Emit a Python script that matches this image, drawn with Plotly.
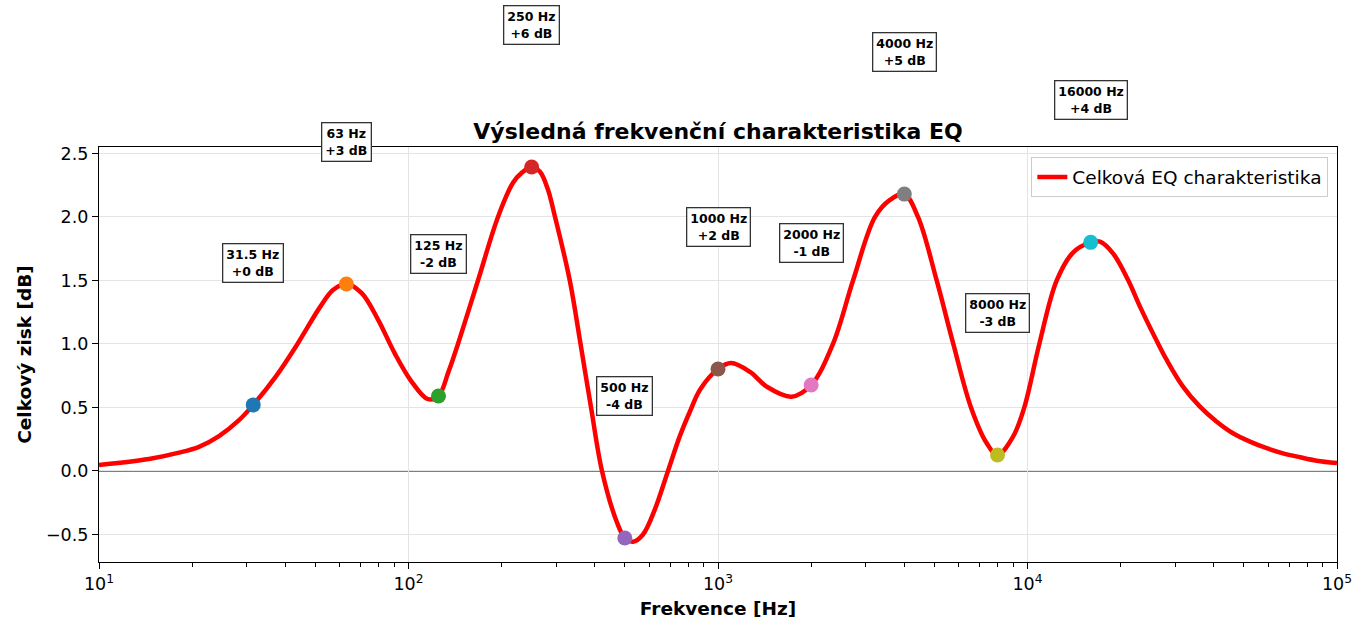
import math
import plotly.graph_objects as go

# Combined EQ response, sampled along the frequency axis
curve_freq = [10, 14.5, 18.14, 21.04, 24.42, 28.34, 31.5, 37.3, 43.78, 51.76, 57.02,
              63, 70.6, 79.8, 90.1, 101.9, 115.6, 125, 134.6, 144.5, 167.7, 194.6,
              217.6, 232.7, 250, 266.0, 281.8, 297.5, 332.0, 359.6, 388.8, 421.9,
              470.7, 500, 531.3, 572.4, 625.8, 689.3, 751.7, 812.2, 874.7, 1000,
              1103, 1269, 1437, 1727, 2000, 2352, 2731, 3216, 3595, 4000, 4428,
              5088, 5758, 6568, 7385, 8000, 8979, 9764, 10918, 12428, 14029, 16000,
              17150, 18890, 21173, 23090, 26460, 28170, 31800, 36080, 40870, 46120,
              52350, 59280, 66920, 75960, 85990, 100000]
curve_gain = [0.047, 0.094, 0.144, 0.19, 0.275, 0.40, 0.52, 0.745, 1.0, 1.29, 1.425,
              1.475, 1.40, 1.19, 0.93, 0.71, 0.565, 0.59, 0.78, 1.0, 1.5, 2.0,
              2.27, 2.35, 2.394, 2.356, 2.22, 2.0, 1.5, 1.0, 0.5, 0.0,
              -0.40, -0.528, -0.557, -0.5, -0.30, 0.0, 0.27, 0.47, 0.64, 0.803,
              0.85, 0.78, 0.664, 0.585, 0.677, 1.0, 1.5, 2.0, 2.134, 2.18, 2.0,
              1.5, 1.0, 0.5, 0.218, 0.126, 0.27, 0.5, 1.0, 1.5, 1.72, 1.80,
              1.806, 1.714, 1.5, 1.294, 1.0, 0.874, 0.664, 0.506, 0.388, 0.297,
              0.231, 0.179, 0.139, 0.108, 0.081, 0.062]

# EQ bands: centre frequency, band setting and resulting gain at the centre
band_freq = [31.5, 63, 125, 250, 500, 1000, 2000, 4000, 8000, 16000]
band_label = ["31.5 Hz", "63 Hz", "125 Hz", "250 Hz", "500 Hz",
              "1000 Hz", "2000 Hz", "4000 Hz", "8000 Hz", "16000 Hz"]
band_setting = [0, 3, -2, 6, -4, 2, -1, 5, -3, 4]
band_gain = [0.52, 1.472, 0.59, 2.394, -0.528, 0.803, 0.677, 2.18, 0.126, 1.80]
band_colors = ["#1f77b4", "#ff7f0e", "#2ca02c", "#d62728", "#9467bd",
               "#8c564b", "#e377c2", "#7f7f7f", "#bcbd22", "#17becf"]

x_tickvals = [10, 100, 1000, 10000, 100000]
x_ticktext = ["10<sup>1</sup>", "10<sup>2</sup>", "10<sup>3</sup>",
              "10<sup>4</sup>", "10<sup>5</sup>"]
y_tickvals = [-0.5, 0.0, 0.5, 1.0, 1.5, 2.0, 2.5]

FONT = "DejaVu Sans"

fig = go.Figure()

# zero reference line
fig.add_shape(type="line", xref="paper", x0=0, x1=1, yref="y", y0=0, y1=0,
              line=dict(color="rgba(0,0,0,0.5)", width=2), layer="below")

fig.add_trace(go.Scatter(
    x=curve_freq, y=curve_gain, mode="lines",
    line=dict(color="#ff0000", width=4.5, shape="spline", smoothing=1.0),
    name="Celková EQ charakteristika",
))

fig.add_trace(go.Scatter(
    x=band_freq, y=band_gain, mode="markers",
    marker=dict(color=band_colors, size=15, line=dict(width=0)),
    showlegend=False, hoverinfo="skip",
))

for f, lab, s, g in zip(band_freq, band_label, band_setting, band_gain):
    fig.add_annotation(
        x=math.log10(f), y=g, xref="x", yref="y",
        text=f"<b>{lab}<br>{s:+d} dB</b>",
        showarrow=False, yshift=142,
        font=dict(family=FONT, size=12.5, color="black"),
        bgcolor="white", bordercolor="#333333", borderwidth=1.3, borderpad=3,
        align="center",
    )

fig.update_layout(
    width=1357, height=621,
    margin=dict(l=99, r=20, t=147, b=59, autoexpand=False),
    paper_bgcolor="white", plot_bgcolor="white",
    font=dict(family=FONT, size=17, color="black"),
    title=dict(text="Výsledná frekvenční charakteristika EQ",
               x=0.5, xref="paper", xanchor="center",
               y=1, yref="paper", yanchor="bottom", pad=dict(b=8),
               font=dict(family=FONT, size=22, weight="bold", color="black")),
    legend=dict(x=0.993, y=0.975, xanchor="right", yanchor="top",
                bgcolor="rgba(255,255,255,0.8)", bordercolor="#cccccc", borderwidth=1,
                font=dict(family=FONT, size=18.5)),
    showlegend=True,
)

fig.update_xaxes(
    type="log", range=[1, 5], automargin=False,
    tickvals=x_tickvals, ticktext=x_ticktext,
    ticks="outside", ticklen=6, tickwidth=1.2, tickcolor="black",
    showline=True, linecolor="black", linewidth=1.2, mirror=True,
    showgrid=True, gridcolor="#e4e4e4", gridwidth=1,
    zeroline=False,
    minor=dict(ticks="outside", ticklen=3.5, tickwidth=1, tickcolor="black",
               dtick="D1", showgrid=False),
    title=dict(text="Frekvence [Hz]", standoff=8,
               font=dict(family=FONT, size=18.5, weight="bold")),
    tickfont=dict(family=FONT, size=17.5),
)
fig.update_yaxes(
    range=[-0.717, 2.551], automargin=False,
    tickvals=y_tickvals, tickformat=".1f",
    ticks="outside", ticklen=6, tickwidth=1.2, tickcolor="black",
    showline=True, linecolor="black", linewidth=1.2, mirror=True,
    showgrid=True, gridcolor="#e4e4e4", gridwidth=1,
    zeroline=False,
    title=dict(text="Celkový zisk [dB]", standoff=9,
               font=dict(family=FONT, size=18.5, weight="bold")),
    tickfont=dict(family=FONT, size=17.5),
)

fig.write_html("out.html")
